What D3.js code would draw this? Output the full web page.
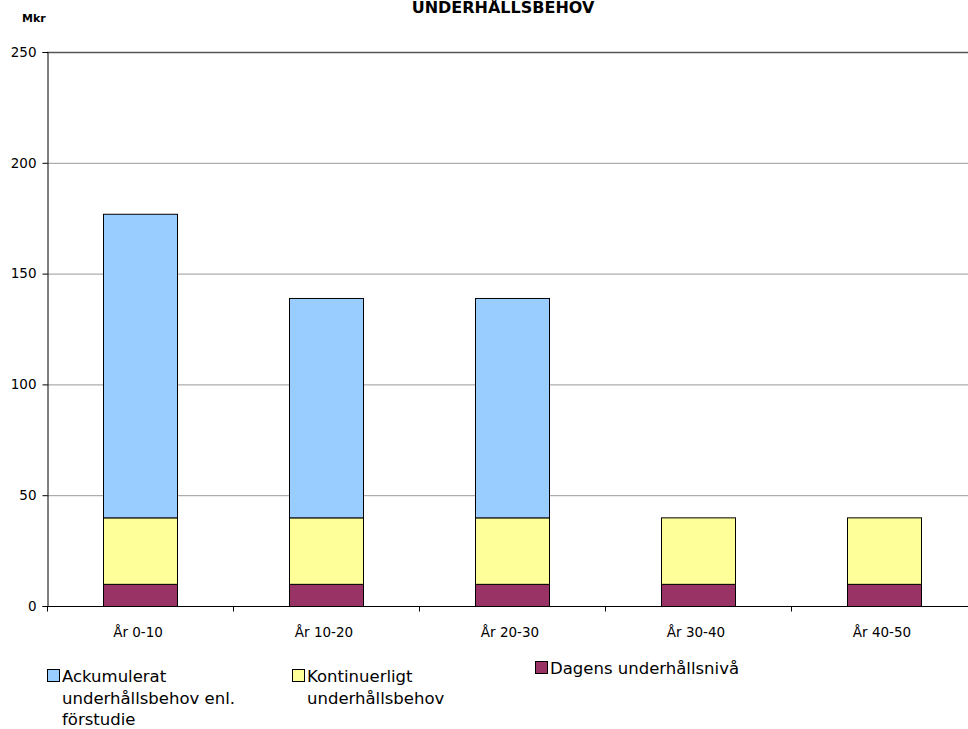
<!DOCTYPE html>
<html>
<head>
<meta charset="utf-8">
<script src="https://cdn.jsdelivr.net/npm/d3@7"></script>
<style>
  html, body { margin: 0; padding: 0; background: #fff; }
  svg { display: block; font-family: "DejaVu Sans", Verdana, sans-serif; }
</style>
</head>
<body>
<svg id="chart" width="968" height="729"></svg>
<script>
// Maintenance need per ten-year period (Mkr), stacked bottom to top
const categories = ["År 0-10", "År 10-20", "År 20-30", "År 30-40", "År 40-50"];
const dagens = [10, 10, 10, 10, 10];
const kontinuerligt = [30, 30, 30, 30, 30];
const ackumulerat = [137, 99, 99, 0, 0];
const seriesNames = ["Dagens underhållsnivå", "Kontinuerligt underhållsbehov", "Ackumulerat underhållsbehov enl. förstudie"];
const seriesColors = ["#993366", "#FFFF99", "#99CCFF"];
const yTicks = [0, 50, 100, 150, 200, 250];

const svg = d3.select("#chart");
const margin = { left: 47, top: 52, bottom: 123 };
const plotW = 930;
const plotH = 729 - margin.top - margin.bottom;

const g = svg.append("g").attr("transform", `translate(${margin.left},${margin.top})`);

const x = d3.scaleBand().domain(categories).range([0, plotW]).paddingInner(0.6).paddingOuter(0.3);
const y = d3.scaleLinear().domain([0, 250]).range([plotH, 0]);

// gridlines
g.selectAll("line.grid").data(yTicks.filter(d => d > 0)).join("line")
  .attr("class", "grid")
  .attr("x1", 0).attr("x2", plotW)
  .attr("y1", d => y(d) + 0.5).attr("y2", d => y(d) + 0.5)
  .attr("stroke", d => d === 250 ? "#555" : "#999")
  .attr("stroke-width", d => d === 250 ? 1.5 : 1);

// stacked bars
const rows = categories.map((c, i) => ({ cat: c, s0: dagens[i], s1: kontinuerligt[i], s2: ackumulerat[i] }));
const stack = d3.stack().keys(["s0", "s1", "s2"]);
const layers = stack(rows);

layers.forEach((layer, li) => {
  g.selectAll(`rect.l${li}`).data(layer.filter(d => d[1] - d[0] > 0)).join("rect")
    .attr("class", `l${li}`)
    .attr("x", d => Math.round(x(d.data.cat)) + 0.5)
    .attr("width", Math.round(x.bandwidth()))
    .attr("y", d => y(d[1]) + 0.5)
    .attr("height", d => y(d[0]) - y(d[1]))
    .attr("fill", seriesColors[li])
    .attr("stroke", "#000")
    .attr("stroke-width", 1);
});

// x axis
const xAxisScale = d3.scaleLinear().domain([0, categories.length]).range([0, plotW]);
const xg = g.append("g").attr("transform", `translate(0,${plotH + 0.5})`);
xg.append("line").attr("x1", 0).attr("x2", plotW).attr("stroke", "#000");
xg.selectAll("line.tick").data(d3.range(categories.length + 1)).join("line")
  .attr("class", "tick")
  .attr("x1", d => Math.round(xAxisScale(d)) + 0.5).attr("x2", d => Math.round(xAxisScale(d)) + 0.5)
  .attr("y1", 0).attr("y2", 5).attr("stroke", "#000");
xg.selectAll("text").data(categories).join("text")
  .attr("x", d => x(d) + x.bandwidth() / 2 - 2)
  .attr("y", 30)
  .attr("text-anchor", "middle")
  .attr("font-size", 13.5)
  .attr("fill", "#000")
  .text(d => d);

// y axis
const yAxis = d3.axisLeft(y).tickValues(yTicks).tickSize(5).tickPadding(6);
const yg = g.append("g").attr("transform", "translate(0.5,0)").call(yAxis);
yg.select(".domain").attr("stroke", "#000");
yg.selectAll(".tick line").attr("stroke", "#000");
yg.selectAll(".tick text").attr("font-size", 13.5).attr("font-family", "DejaVu Sans, Verdana, sans-serif").attr("fill", "#000");

// title and unit
svg.append("text").attr("x", 503).attr("y", 13).attr("text-anchor", "middle")
  .attr("font-size", 16).attr("font-weight", "bold").text("UNDERHÅLLSBEHOV");
svg.append("text").attr("x", 22).attr("y", 22)
  .attr("font-size", 11).attr("font-weight", "bold").text("Mkr");

// legend
const legendItems = [
  { color: seriesColors[2], lines: ["Ackumulerat", "underhållsbehov enl.", "förstudie"], x: 47, y: 682 },
  { color: seriesColors[1], lines: ["Kontinuerligt", "underhållsbehov"], x: 292, y: 682 },
  { color: seriesColors[0], lines: ["Dagens underhållsnivå"], x: 535, y: 674 }
];
const lg = svg.append("g");
legendItems.forEach(it => {
  lg.append("rect").attr("x", it.x + 0.5).attr("y", it.y - 12.5).attr("width", 12).attr("height", 12)
    .attr("fill", it.color).attr("stroke", "#000");
  it.lines.forEach((t, i) => {
    lg.append("text").attr("x", it.x + 15).attr("y", it.y + i * 21.5)
      .attr("font-size", 16.5).attr("fill", "#000").text(t);
  });
});
</script>
</body>
</html>
